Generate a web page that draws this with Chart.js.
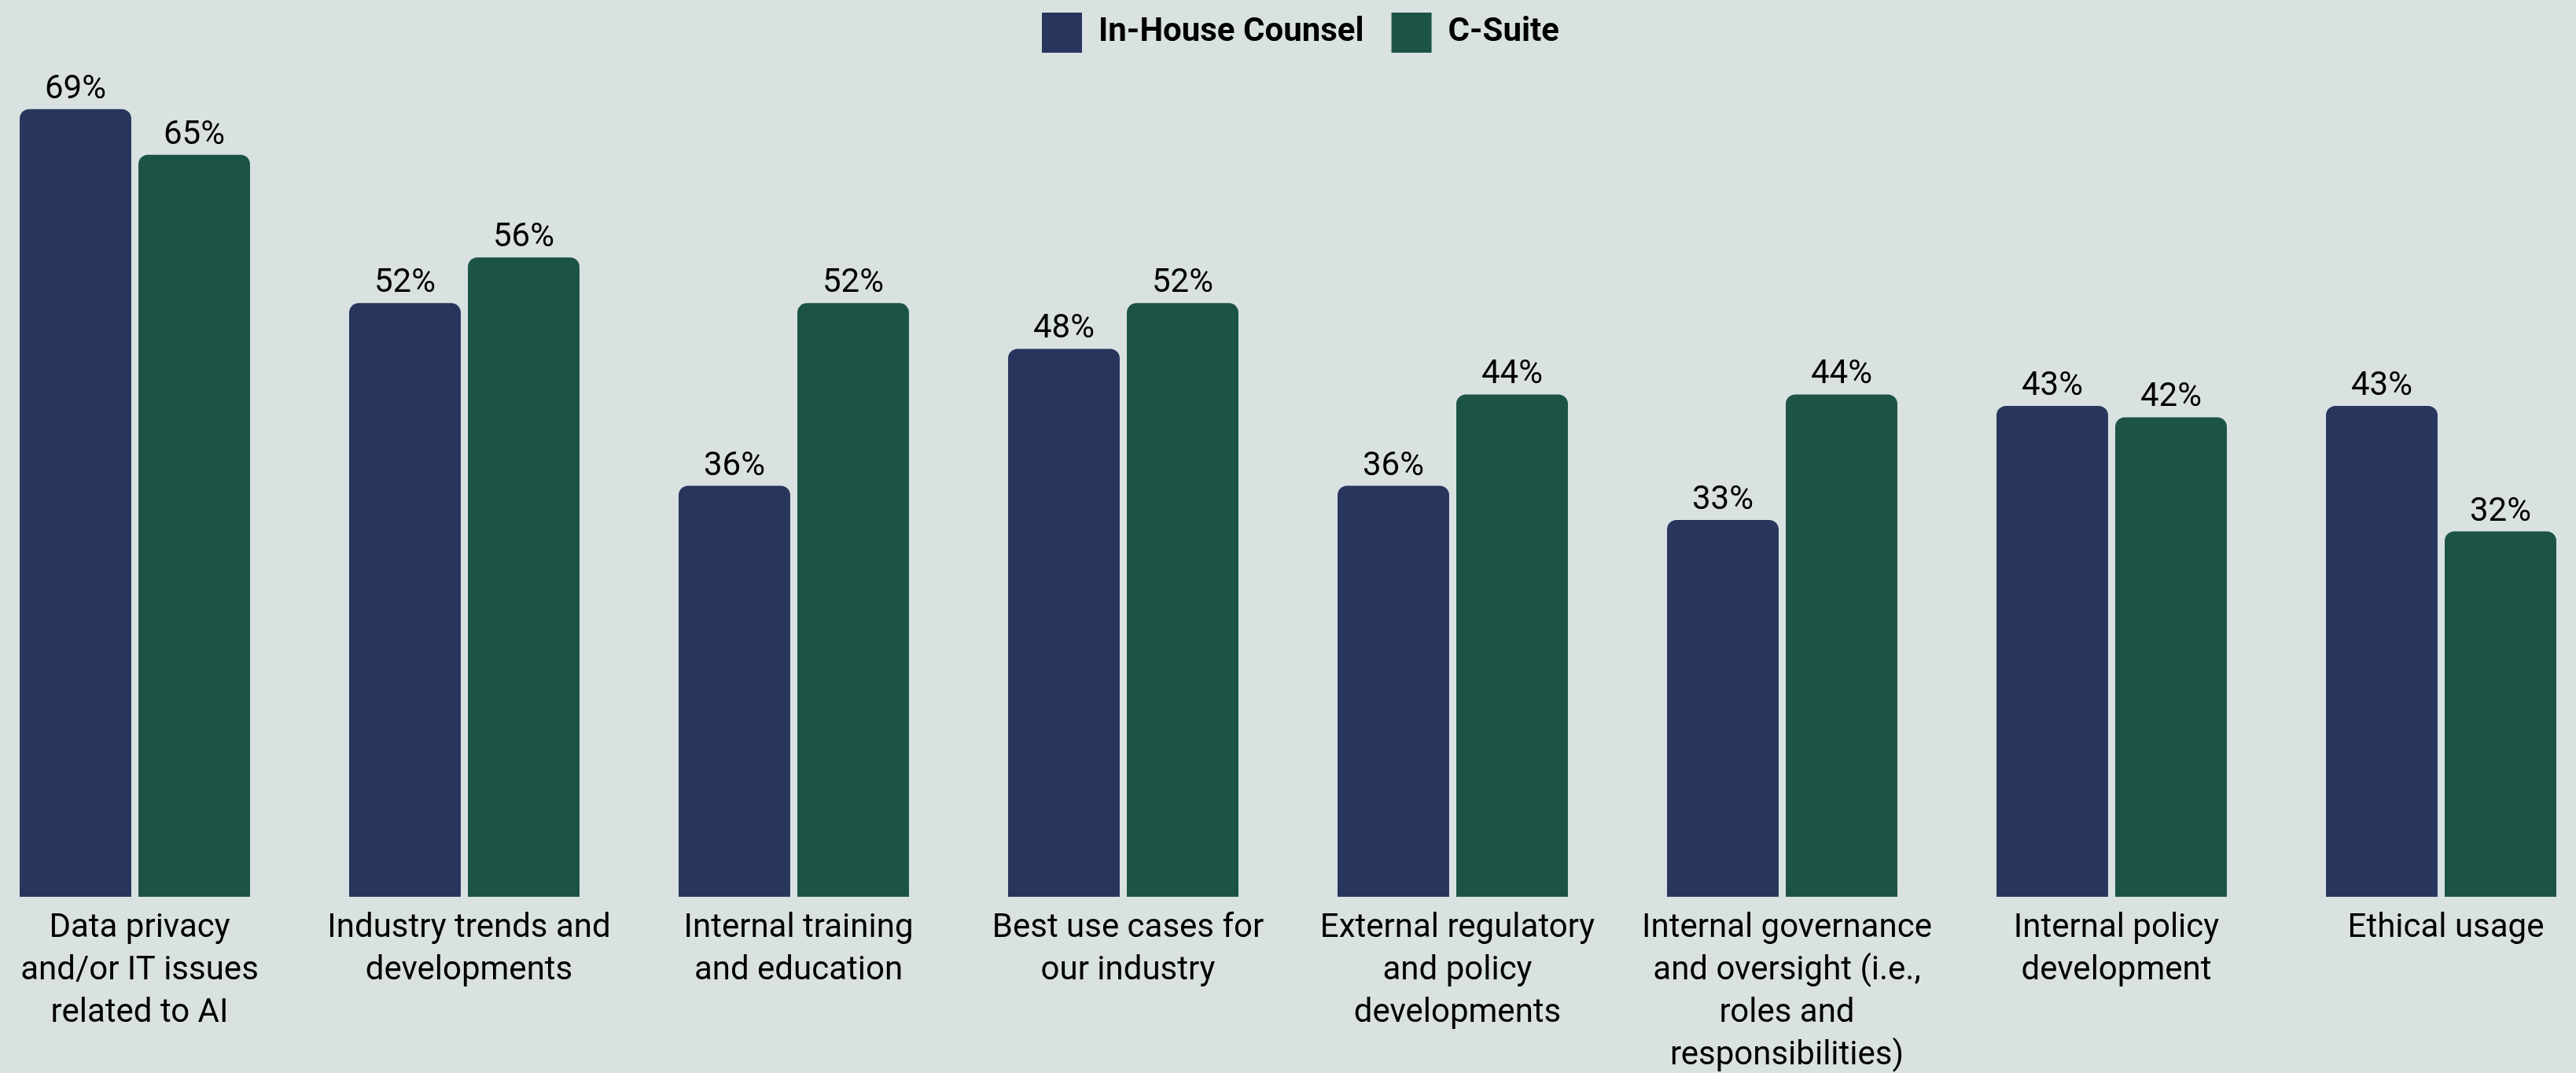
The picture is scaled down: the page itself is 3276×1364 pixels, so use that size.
<!DOCTYPE html>
<html>
<head>
<meta charset="utf-8">
<script src="https://cdn.jsdelivr.net/npm/chart.js@4.4.1/dist/chart.umd.min.js"></script>
<style>
  html, body { margin: 0; padding: 0; background: #d9e2e1; overflow: hidden; }
  body { width: 3276px; height: 1364px; position: relative; }
  #wrap { position: absolute; left: -38px; top: 0; width: 3352px; height: 1383px; }
</style>
</head>
<body>
<div id="wrap"><canvas id="chart" width="3352" height="1383"></canvas></div>
<script>
// Topics (multi-line axis labels)
const categories = [
  ["Data privacy", "and/or IT issues", "related to AI"],
  ["Industry trends and", "developments"],
  ["Internal training", "and education"],
  ["Best use cases for", "our industry"],
  ["External regulatory", "and policy", "developments"],
  ["Internal governance", "and oversight (i.e.,", "roles and", "responsibilities)"],
  ["Internal policy", "development"],
  ["Ethical usage"]
];
const seriesNames = ["In-House Counsel", "C-Suite"];
const inHouseCounsel = [69, 52, 36, 48, 36, 33, 43, 43];
const cSuite = [65, 56, 52, 52, 44, 44, 42, 32];

const NAVY = "#28365d";
const GREEN = "#1b5344";

// Draws the percentage above each bar
const valueLabels = {
  id: "valueLabels",
  afterDatasetsDraw(chart) {
    const ctx = chart.ctx;
    ctx.save();
    ctx.font = "42px Roboto";
    ctx.fillStyle = "#000";
    ctx.textAlign = "center";
    ctx.textBaseline = "alphabetic";
    chart.data.datasets.forEach((ds, di) => {
      const meta = chart.getDatasetMeta(di);
      meta.data.forEach((bar, i) => {
        ctx.fillText(ds.data[i] + "%", bar.x, bar.y - 14);
      });
    });
    ctx.restore();
  }
};

// Nudges the legend row slightly to the right
const legendNudge = {
  id: "legendNudge",
  afterLayout(chart) {
    if (chart.legend) {
      chart.legend.left += 16;
      chart.legend.right += 16;
    }
  }
};

new Chart(document.getElementById("chart"), {
  type: "bar",
  data: {
    labels: categories,
    datasets: [
      { label: seriesNames[0], data: inHouseCounsel, backgroundColor: NAVY, borderWidth: 0, borderRadius: 12 },
      { label: seriesNames[1], data: cSuite, backgroundColor: GREEN, borderWidth: 0, borderRadius: 12 }
    ]
  },
  options: {
    responsive: false,
    animation: false,
    devicePixelRatio: 1,
    layout: { padding: { top: -19, left: 0, right: 0, bottom: 0 } },
    datasets: { bar: { categoryPercentage: 0.7208, barPercentage: 0.94 } },
    plugins: {
      legend: {
        position: "top",
        labels: {
          boxWidth: 51,
          boxHeight: 51,
          padding: 35,
          color: "#000",
          font: { family: "Roboto", size: 42, weight: "bold" }
        }
      },
      tooltip: { enabled: false }
    },
    scales: {
      x: {
        grid: { display: false, drawTicks: false },
        border: { display: false },
        ticks: {
          color: "#000",
          font: { family: "Roboto", size: 42, lineHeight: 1.28 },
          padding: 14,
          labelOffset: 6,
          maxRotation: 0,
          minRotation: 0,
          autoSkip: false
        }
      },
      y: {
        display: false,
        min: 0,
        max: 73.25,
        grid: { display: false }
      }
    }
  },
  plugins: [valueLabels, legendNudge]
});
</script>
</body>
</html>
